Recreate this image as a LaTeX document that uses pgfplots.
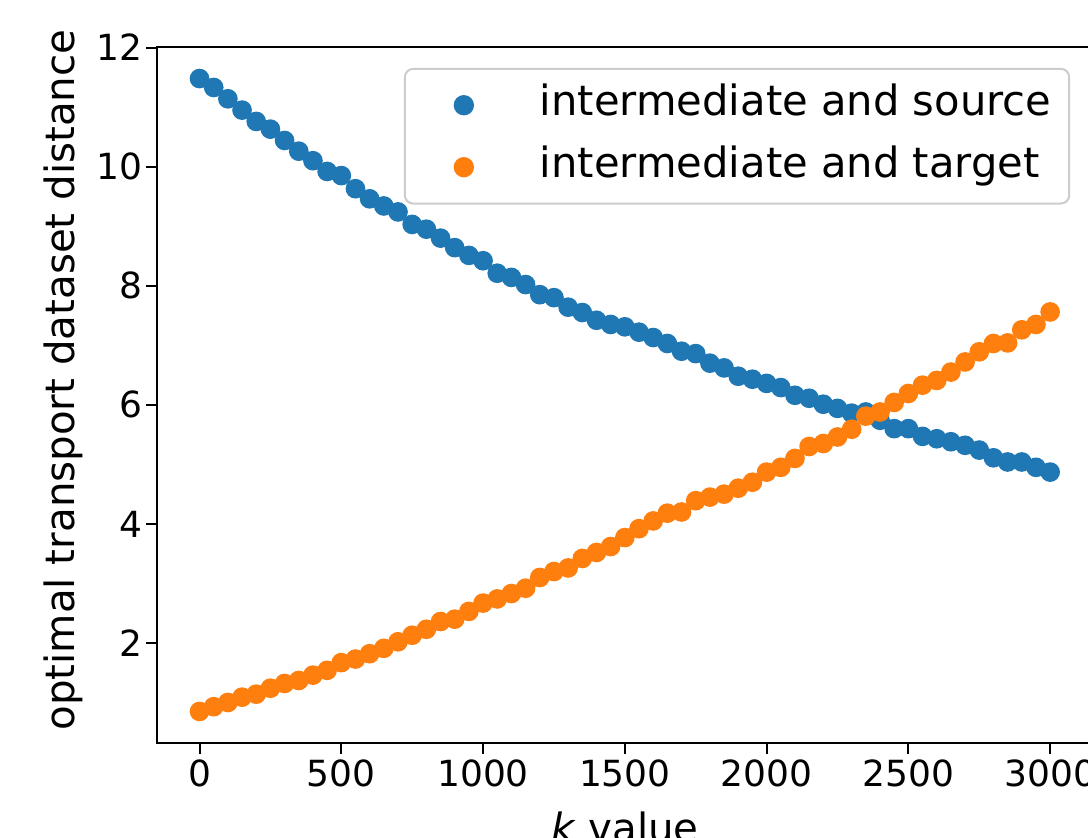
\documentclass[border=0pt]{standalone}
\usepackage{pgfplots}
\pgfplotsset{compat=1.18}
\usepackage{pgfplotstable}
\usepackage{fontspec}
\setmainfont{DejaVu Sans}

\definecolor{tabblue}{HTML}{1F77B4}
\definecolor{taborange}{HTML}{FF7F0E}

% k, distance to source, distance to target
\pgfplotstableread{
k    src    tgt
0    11.48  0.85
50   11.33  0.93
100  11.14  1.00
150  10.95  1.09
200  10.76  1.14
250  10.63  1.24
300  10.44  1.32
350  10.26  1.37
400  10.10  1.46
450  9.92   1.54
500  9.85   1.67
550  9.63   1.73
600  9.46   1.82
650  9.34   1.91
700  9.24   2.02
750  9.03   2.13
800  8.95   2.23
850  8.80   2.36
900  8.64   2.40
950  8.51   2.53
1000 8.42   2.67
1050 8.21   2.74
1100 8.14   2.83
1150 8.02   2.92
1200 7.85   3.10
1250 7.80   3.20
1300 7.64   3.26
1350 7.55   3.42
1400 7.42   3.52
1450 7.35   3.62
1500 7.31   3.77
1550 7.22   3.92
1600 7.13   4.05
1650 7.03   4.18
1700 6.90   4.20
1750 6.86   4.39
1800 6.70   4.45
1850 6.62   4.50
1900 6.48   4.60
1950 6.43   4.70
2000 6.36   4.87
2050 6.29   4.95
2100 6.16   5.10
2150 6.11   5.30
2200 6.01   5.35
2250 5.94   5.46
2300 5.86   5.59
2350 5.88   5.81
2400 5.74   5.88
2450 5.60   6.04
2500 5.60   6.19
2550 5.47   6.33
2600 5.43   6.41
2650 5.38   6.55
2700 5.32   6.72
2750 5.24   6.89
2800 5.11   7.03
2850 5.04   7.04
2900 5.04   7.26
2950 4.95   7.35
3000 4.87   7.56
}\otdata

\begin{document}
\begin{tikzpicture}
% the reference is a cropped figure: fix the page to that window
\useasboundingbox (-47.1pt,-28.5pt) rectangle (279.3pt,222.9pt);
\begin{axis}[
    at={(0,0)}, anchor=south west,
    scale only axis,
    width=280.7pt, height=208.8pt,
    xmin=-150, xmax=3150,
    ymin=0.32, ymax=12.01,
    xtick={0,500,...,3000},
    ytick={2,4,6,8,10,12},
    tick align=outside,
    major tick length=3.2pt,
    axis line style={line width=0.6pt},
    major tick style={line width=0.6pt, black},
    xtick pos=bottom, ytick pos=left,
    /pgf/number format/assume math mode=true,
    /pgf/number format/1000 sep={},
    tick label style={font=\fontsize{10.8}{12}\selectfont, inner sep=0pt},
    xticklabel style={anchor=north, yshift=-1.5pt},
    yticklabel style={anchor=east, xshift=-0.9pt},
    xlabel={\textit{k} value},
    ylabel={optimal transport dataset distance},
    label style={font=\fontsize{12.1}{14}\selectfont},
    xlabel style={at={(axis description cs:0.5,-0.122)}, anchor=center},
    ylabel style={at={(axis description cs:-0.1005,0.5216)}, anchor=center},
    legend style={
        at={(0.976,0.970)}, anchor=north east,
        draw=black!20, line width=0.6pt, rounded corners=2.5pt, fill=white,
        inner xsep=5.4pt, inner ysep=1.6pt,
        column sep=3.9pt,
        font=\fontsize{12.5}{14}\selectfont,
        nodes={inner xsep=0pt, inner ysep=3.1pt, text height=9.4pt, text depth=3.0pt},
    },
    legend cell align=left,
    legend image code/.code={
        \path (0pt,0pt) (30.6pt,0pt);
        \draw[#1] plot coordinates {(12pt,0pt)};
    },
]
\addplot[only marks, mark=*, mark size=2.75pt, color=tabblue,
    mark options={fill=tabblue, draw=none}]
    table[x=k, y=src] {\otdata};
\addlegendentry{intermediate and source}
\addplot[only marks, mark=*, mark size=2.75pt, color=taborange,
    mark options={fill=taborange, draw=none}]
    table[x=k, y=tgt] {\otdata};
\addlegendentry{intermediate and target}
\end{axis}
\end{tikzpicture}
\end{document}
